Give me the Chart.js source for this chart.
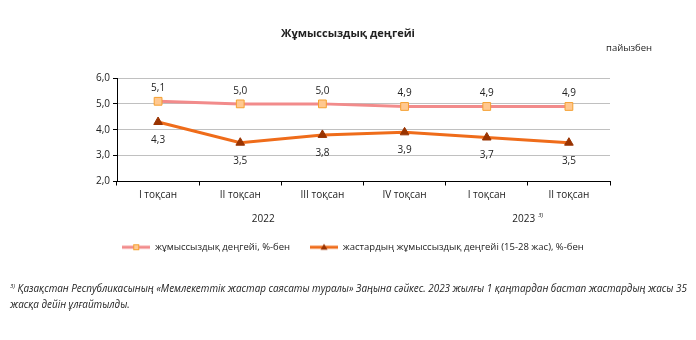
<!DOCTYPE html>
<html>
<head>
<meta charset="utf-8">
<script src="https://cdn.jsdelivr.net/npm/chart.js@4"></script>
<style>
  body { margin: 0; background: #fff; font-family: "Open Sans", sans-serif; }
  #wrap { position: relative; width: 696px; height: 340px; }
  #chart { position: absolute; left: 0; top: 0; }
  .title { position: absolute; top: 25px; left: 0; width: 696px; text-align: center; font-weight: bold; font-size: 11px; color: #222; }
  .unit { position: absolute; top: 41px; left: 606px; font-size: 9.5px; color: #222; }
  .note { position: absolute; left: 10px; top: 278px; font-size: 9.9px; font-style: italic; color: #222; line-height: 16px; white-space: nowrap; }
  .note sup { font-size: 6px; }
</style>
</head>
<body>
<div id="wrap">
  <canvas id="chart" width="696" height="340"></canvas>
  <div class="title">Жұмыссыздық деңгейі</div>
  <div class="unit">пайызбен</div>
  <div class="note"><sup>3)</sup> Қазақстан Республикасының «Мемлекеттік жастар саясаты туралы» Заңына сәйкес. 2023 жылғы 1 қаңтардан бастап жастардың жасы 35<br>жасқа дейін ұлғайтылды.</div>
</div>
<script>
// chart data
const quarters = ["I тоқсан", "II тоқсан", "III тоқсан", "IV тоқсан", "I тоқсан", "II тоқсан"];
const years = ["2022", "2023"];
const unemployment = [5.1, 5.0, 5.0, 4.9, 4.9, 4.9];
const youthUnemployment = [4.3, 3.5, 3.8, 3.9, 3.7, 3.5];
const seriesNames = ["жұмыссыздық деңгейі, %-бен", "жастардың жұмыссыздық деңгейі (15-28 жас), %-бен"];

const FONT = "Open Sans";
const fmt = (v) => v.toFixed(1).replace(".", ",");

// legend sample: short line with the marker in the middle
function legendIcon(lineColor, drawMarker) {
  const c = document.createElement("canvas");
  c.width = 28;
  c.height = 10;
  const ctx = c.getContext("2d");
  ctx.strokeStyle = lineColor;
  ctx.lineWidth = 3;
  ctx.beginPath();
  ctx.moveTo(0, 5);
  ctx.lineTo(28, 5);
  ctx.stroke();
  drawMarker(ctx);
  return c;
}

const squareIcon = legendIcon("#f28b8b", (ctx) => {
  ctx.fillStyle = "#ffc890";
  ctx.strokeStyle = "#f5a030";
  ctx.lineWidth = 1;
  ctx.fillRect(11, 2, 6, 6);
  ctx.strokeRect(11.5, 2.5, 5, 5);
});
const triangleIcon = legendIcon("#ef6c1a", (ctx) => {
  ctx.fillStyle = "#993300";
  ctx.beginPath();
  ctx.moveTo(14, 1.5);
  ctx.lineTo(17.5, 7.5);
  ctx.lineTo(10.5, 7.5);
  ctx.closePath();
  ctx.fill();
});

// value labels above / below the points
const valueLabels = {
  id: "valueLabels",
  afterDatasetsDraw(chart) {
    const ctx = chart.ctx;
    ctx.save();
    ctx.font = "10px '" + FONT + "'";
    ctx.fillStyle = "#222";
    ctx.textAlign = "center";
    ctx.textBaseline = "middle";
    chart.data.datasets.forEach((ds, i) => {
      const meta = chart.getDatasetMeta(i);
      const shift = i === 0 ? -13 : 18;
      meta.data.forEach((pt, j) => {
        ctx.fillText(fmt(ds.data[j]), pt.x, pt.y + shift);
      });
    });
    ctx.restore();
  }
};

// second level of the category axis: the years
const yearLabels = {
  id: "yearLabels",
  afterDraw(chart) {
    const x = chart.scales.x;
    const ctx = chart.ctx;
    ctx.save();
    ctx.font = "10px '" + FONT + "'";
    ctx.fillStyle = "#222";
    ctx.textAlign = "center";
    ctx.textBaseline = "middle";
    const y = x.bottom - 3;
    ctx.fillText(years[0], x.getPixelForValue(1.28), y);
    const px = x.getPixelForValue(4.45);
    ctx.fillText(years[1], px, y);
    const w = ctx.measureText(years[1]).width;
    ctx.font = "italic 6px '" + FONT + "'";
    ctx.textAlign = "left";
    ctx.fillText("3)", px + w / 2 + 3, y - 4);
    ctx.restore();
  }
};

new Chart(document.getElementById("chart"), {
  type: "line",
  data: {
    labels: quarters,
    datasets: [
      {
        label: seriesNames[0],
        data: unemployment,
        borderColor: "#f28b8b",
        borderWidth: 3,
        pointStyle: "rect",
        pointRadius: 5.5,
        pointBackgroundColor: "#ffc890",
        pointBorderColor: "#f5a030",
        pointBorderWidth: 1,
        tension: 0
      },
      {
        label: seriesNames[1],
        data: youthUnemployment,
        borderColor: "#ef6c1a",
        borderWidth: 3,
        pointStyle: "triangle",
        pointRadius: 5,
        pointBackgroundColor: "#993300",
        pointBorderColor: "#993300",
        pointBorderWidth: 1,
        tension: 0
      }
    ]
  },
  options: {
    responsive: false,
    animation: false,
    layout: { padding: { top: 78, left: 10, right: 0, bottom: 78 } },
    scales: {
      x: {
        offset: true,
        grid: { offset: true, drawOnChartArea: false, tickLength: 4, color: "#000" },
        border: { color: "#000" },
        ticks: { font: { family: FONT, size: 10 }, color: "#222", padding: 4, maxRotation: 0 },
        afterFit: (scale) => { scale.height = 41; }
      },
      y: {
        min: 2,
        max: 6,
        ticks: { stepSize: 1, callback: (v) => fmt(v), font: { family: FONT, size: 10 }, color: "#222", padding: 3 },
        grid: { color: "#c0c0c0", tickLength: 4, tickColor: "#000" },
        border: { color: "#000" },
        afterFit: (scale) => { scale.width = 107; }
      },
      // empty right margin so the legend centres on the whole page
      spacer: {
        type: "linear",
        position: "right",
        min: 0,
        max: 1,
        ticks: { display: false },
        grid: { display: false },
        border: { display: false },
        afterFit: (scale) => { scale.width = 86; }
      }
    },
    plugins: {
      legend: {
        position: "bottom",
        labels: {
          usePointStyle: true,
          pointStyleWidth: 28,
          generateLabels: (chart) => chart.data.datasets.map((ds, i) => ({
            text: ds.label,
            pointStyle: i === 0 ? squareIcon : triangleIcon,
            datasetIndex: i,
            fontColor: "#222",
            lineWidth: 0,
            strokeStyle: "transparent",
            fillStyle: "transparent"
          })),
          font: { family: FONT, size: 9.5 },
          boxHeight: 10,
          padding: 20
        }
      },
      tooltip: { enabled: false }
    }
  },
  plugins: [valueLabels, yearLabels]
});
</script>
</body>
</html>
